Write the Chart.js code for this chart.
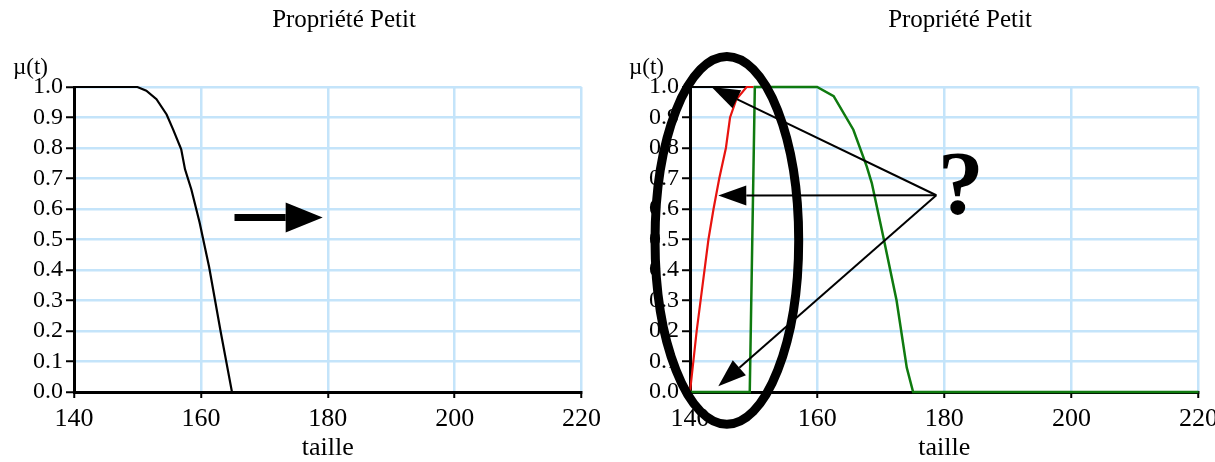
<!DOCTYPE html>
<html>
<head>
<meta charset="utf-8">
<script src="https://cdn.jsdelivr.net/npm/chart.js@4.4.0/dist/chart.umd.min.js"></script>
<style>
  html, body { margin: 0; padding: 0; background: #fff; overflow: hidden; width: 1215px; height: 462px; }
  .boite { position: absolute; top: 0; height: 462px; }
</style>
</head>
<body>
<div class="boite" style="left:0;width:607px"><canvas id="graphique-gauche"></canvas></div>
<div class="boite" style="left:591px;width:633px"><canvas id="graphique-droite"></canvas></div>
<script>
// textes
const titre = 'Propriété Petit';
const titreY = 'µ(t)';
const titreX = 'taille';

// graduations
const ticksTaille = [140, 160, 180, 200, 220];
const ticksMu = [0, 0.1, 0.2, 0.3, 0.4, 0.5, 0.6, 0.7, 0.8, 0.9, 1.0];

// courbe de gauche (noire)
const taillePetit = [140, 150, 151.4, 153, 154.6, 155.6, 156.9, 157.5, 158.5, 159.8, 161.3, 163.1, 164.9, 220];
const muPetit = [1, 1, 0.988, 0.96, 0.91, 0.862, 0.796, 0.73, 0.664, 0.556, 0.41, 0.2, 0, 0];

// courbes de droite
const tailleNoir = [140, 149];
const muNoir = [1, 1];
const tailleRouge = [140, 141.05, 142.9, 143.7, 144.6, 145.65, 146.3, 147.3, 148.9, 150];
const muRouge = [0, 0.2, 0.5, 0.6, 0.7, 0.8, 0.9, 0.96, 1, 1];
const tailleVert = [140, 149.4, 150.2, 160, 162.6, 165.7, 167.8, 168.6, 170.4, 172.5, 174.1, 175.1, 220];
const muVert = [0, 0, 1, 1, 0.97, 0.86, 0.74, 0.685, 0.51, 0.30, 0.08, 0, 0];

const points = (xs, ys) => xs.map((v, i) => ({x: v, y: ys[i]}));

function fleche(ctx, x1, y1, x2, y2, epaisseur, longueur, demi) {
    const a = Math.atan2(y2 - y1, x2 - x1);
    const bx = x2 - longueur * Math.cos(a);
    const by = y2 - longueur * Math.sin(a);
    ctx.lineWidth = epaisseur;
    ctx.beginPath();
    ctx.moveTo(x1, y1);
    ctx.lineTo(bx, by);
    ctx.stroke();
    ctx.beginPath();
    ctx.moveTo(x2, y2);
    ctx.lineTo(bx + demi * Math.sin(a), by - demi * Math.cos(a));
    ctx.lineTo(bx - demi * Math.sin(a), by + demi * Math.cos(a));
    ctx.closePath();
    ctx.fill();
}

// titre, µ(t), flèches, ellipse et point d'interrogation
const decor = {
    id: 'decor',
    afterDraw(chart, args, opts) {
        const {ctx, chartArea, scales: {x, y}} = chart;
        ctx.save();
        ctx.fillStyle = '#000';
        ctx.strokeStyle = '#000';
        ctx.textBaseline = 'middle';
        ctx.textAlign = 'center';
        ctx.font = '25px "Liberation Serif"';
        ctx.fillText(titre, chartArea.left + 270, 20);
        ctx.textAlign = 'left';
        ctx.font = '23px "Liberation Serif"';
        ctx.fillText(titreY, chartArea.left - 61, 68);

        (opts.fleches || []).forEach(f => {
            fleche(ctx, x.getPixelForValue(f.de[0]), y.getPixelForValue(f.de[1]),
                x.getPixelForValue(f.a[0]), y.getPixelForValue(f.a[1]), f.epaisseur, f.longueur, f.demi);
        });
        if (opts.ellipse) {
            const e = opts.ellipse;
            const cx = x.getPixelForValue(e.centre[0]);
            const cy = y.getPixelForValue(e.centre[1]);
            const rx = x.getPixelForValue(e.centre[0] + e.rayons[0]) - cx;
            const ry = cy - y.getPixelForValue(e.centre[1] + e.rayons[1]);
            ctx.lineWidth = 9;
            ctx.beginPath();
            ctx.ellipse(cx, cy, rx, ry, 0, 0, Math.PI * 2);
            ctx.stroke();
        }
        if (opts.question) {
            ctx.textAlign = 'center';
            ctx.font = 'bold 92px "Liberation Serif"';
            ctx.fillText('?', x.getPixelForValue(opts.question[0]), y.getPixelForValue(opts.question[1]));
        }
        ctx.restore();
    }
};

function options(largeurY, droite, decorOpts) {
    return {
        responsive: true,
        maintainAspectRatio: false,
        animation: false,
        layout: { autoPadding: false, padding: { top: 87, left: 0, right: droite, bottom: 0 } },
        plugins: { legend: { display: false }, tooltip: { enabled: false }, decor: decorOpts },
        scales: {
            x: {
                type: 'linear',
                min: 140, max: 220,
                afterBuildTicks: s => { s.ticks = ticksTaille.map(v => ({value: v})); },
                afterFit: s => { s.height = 70; },
                grid: { color: '#c4e4fa', lineWidth: 2.5, tickColor: '#000', tickLength: 6, tickWidth: 2 },
                border: { color: '#000', width: 3 },
                ticks: { color: '#000', font: { family: 'Liberation Serif', size: 26 }, padding: 6, maxRotation: 0, autoSkip: false },
                title: { display: true, text: titreX, color: '#000', font: { family: 'Liberation Serif', size: 26, lineHeight: 1.05 }, padding: { top: 0, bottom: 0 } }
            },
            y: {
                min: 0, max: 1,
                afterBuildTicks: s => { s.ticks = ticksMu.map(v => ({value: v})); },
                afterFit: s => { s.width = largeurY; },
                grid: { color: '#c4e4fa', lineWidth: 2.5, tickColor: '#000', tickLength: 8, tickWidth: 2 },
                border: { color: '#000', width: 3 },
                ticks: { color: '#000', font: { family: 'Liberation Serif', size: 24 }, padding: 3, autoSkip: false, callback: v => v.toFixed(1) }
            }
        }
    };
}

const trait = (xs, ys, couleur, epaisseur, ordre) => ({
    data: points(xs, ys),
    showLine: true,
    borderColor: couleur,
    borderWidth: epaisseur,
    pointRadius: 0,
    tension: 0,
    clip: false,
    order: ordre
});

new Chart(document.getElementById('graphique-gauche'), {
    type: 'scatter',
    data: { datasets: [trait(taillePetit, muPetit, '#000', 2.2, 1)] },
    options: options(74, 25, {
        fleches: [{ de: [165.3, 0.572], a: [179.2, 0.572], epaisseur: 7, longueur: 37, demi: 15 }]
    }),
    plugins: [decor]
});

new Chart(document.getElementById('graphique-droite'), {
    type: 'scatter',
    data: {
        datasets: [
            trait(tailleVert, muVert, '#0f7a0f', 2.5, 1),
            trait(tailleRouge, muRouge, '#e8130f', 2.2, 2),
            trait(tailleNoir, muNoir, '#000', 2.2, 3)
        ]
    },
    options: options(99, 25, {
        fleches: [
            { de: [178.75, 0.645], a: [143.4, 1.0], epaisseur: 2, longueur: 28, demi: 10 },
            { de: [178.75, 0.645], a: [144.45, 0.644], epaisseur: 2, longueur: 28, demi: 10 },
            { de: [178.75, 0.645], a: [144.45, 0.019], epaisseur: 2, longueur: 28, demi: 10 }
        ],
        ellipse: { centre: [145.8, 0.497], rayons: [11.3, 0.603] },
        question: [182.6, 0.66]
    }),
    plugins: [decor]
});
</script>
</body>
</html>
